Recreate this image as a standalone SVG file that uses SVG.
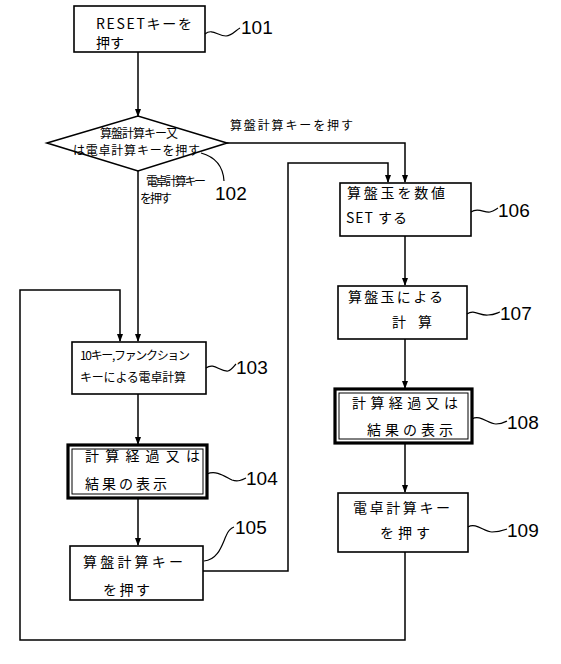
<svg xmlns="http://www.w3.org/2000/svg" width="561" height="664" viewBox="0 0 561 664">
<style>
.box{fill:#fff;stroke:#000;stroke-width:1.6}
.thick{fill:none;stroke:#000;stroke-width:3.2}
.thin{fill:none;stroke:#000;stroke-width:1}
.ln{fill:none;stroke:#000;stroke-width:1.5}
.ld{fill:none;stroke:#000;stroke-width:1.2}
.t{font-family:"Noto Sans CJK JP","Noto Sans CJK SC",sans-serif;font-size:14px;fill:#000}
.s{font-family:"Noto Sans CJK JP","Noto Sans CJK SC",sans-serif;font-size:12px;fill:#000}
.n{font-family:"Liberation Sans","DejaVu Sans",sans-serif;font-size:19px;fill:#000}
</style>
<defs>
<marker id="ar" markerWidth="8" markerHeight="8" refX="7" refY="4" orient="auto" markerUnits="userSpaceOnUse">
<path d="M0,1 L8,4 L0,7 Z" fill="#000"/>
</marker>
</defs>
<rect width="561" height="664" fill="#fff"/>
<g id="connectors">
<path class="ln" d="M138,52 V116" marker-end="url(#ar)"/>
<path class="ln" d="M227,143 H405 V182" marker-end="url(#ar)"/>
<path class="ln" d="M138,171 V341" marker-end="url(#ar)"/>
<path class="ln" d="M405,236 V285" marker-end="url(#ar)"/>
<path class="ln" d="M405,339 V388" marker-end="url(#ar)"/>
<path class="ln" d="M405,443 V492" marker-end="url(#ar)"/>
<path class="ln" d="M405,552 V640 H20 V290 H120 V341" marker-end="url(#ar)"/>
<path class="ln" d="M138,394 V444" marker-end="url(#ar)"/>
<path class="ln" d="M138,498 V545" marker-end="url(#ar)"/>
<path class="ln" d="M203,571 H288 V163 H388 V182" marker-end="url(#ar)"/>
<text class="s" x="230" y="130" textLength="123" lengthAdjust="spacing">算盤計算キーを押す</text>
<text class="s" x="146" y="186" font-size="11" textLength="60" lengthAdjust="spacing">電卓計算キー</text>
<text class="s" x="140" y="203" font-size="11" textLength="32" lengthAdjust="spacing">を押す</text>
</g>
<g id="n101">
<rect class="box" x="74" y="6" width="131" height="46"/>
<text class="t" x="96" y="29" textLength="96" lengthAdjust="spacing">RESETキーを</text>
<text class="t" x="96" y="48">押す</text>
<path class="ld" d="M205,34 C212,28 218,36 226,36 C232,36 236,30 240,28"/>
<text class="n" x="241" y="34">101</text>
</g>
<g id="n102">
<polygon class="box" points="47,143 138,116 227,143 138,171"/>
<text class="s" x="100" y="138" textLength="78" lengthAdjust="spacing">算盤計算キー又</text>
<text class="s" x="73" y="155" textLength="127" lengthAdjust="spacing">は電卓計算キーを押す</text>
<path class="ld" d="M201,153 C212,156 223,164 224,181"/>
<text class="n" x="215" y="200">102</text>
</g>
<g id="n103">
<rect class="box" x="72" y="342" width="134" height="52"/>
<text class="s" x="80" y="360" font-size="13" textLength="110" lengthAdjust="spacing">10キー,ファンクション</text>
<text class="s" x="80" y="382" font-size="13" textLength="106" lengthAdjust="spacing">キーによる電卓計算</text>
<path class="ld" d="M206,368 C214,362 220,372 228,371 C232,370 234,366 236,364"/>
<text class="n" x="236" y="374">103</text>
</g>
<g id="n104">
<rect class="thick" x="68" y="445" width="139" height="53"/>
<rect class="thin" x="72" y="449" width="131" height="45"/>
<text class="t" x="85" y="461" textLength="115" lengthAdjust="spacing">計算経過又は</text>
<text class="t" x="85" y="489" textLength="82" lengthAdjust="spacing">結果の表示</text>
<path class="ld" d="M207,474 C216,470 224,476 232,480 C238,482 242,480 246,478"/>
<text class="n" x="246" y="485">104</text>
</g>
<g id="n105">
<rect class="box" x="70" y="546" width="133" height="54"/>
<text class="t" x="83" y="567" textLength="100" lengthAdjust="spacing">算盤計算キー</text>
<text class="t" x="103" y="595" textLength="47" lengthAdjust="spacing">を押す</text>
<path class="ld" d="M204,561 C218,560 222,545 226,536 C228,531 231,528 234,527"/>
<text class="n" x="235" y="534">105</text>
</g>
<g id="n106">
<rect class="box" x="340" y="183" width="131" height="53"/>
<text class="t" x="347" y="198" textLength="98" lengthAdjust="spacing">算盤玉を数値</text>
<text class="t" x="346" y="223" textLength="61" lengthAdjust="spacing">SET する</text>
<path class="ld" d="M471,212 C478,207 484,213 490,212 C494,211 496,209 498,208"/>
<text class="n" x="498" y="217">106</text>
</g>
<g id="n107">
<rect class="box" x="338" y="286" width="129" height="53"/>
<text class="t" x="348" y="302" textLength="95" lengthAdjust="spacing">算盤玉による</text>
<text class="t" x="392" y="327" textLength="40" lengthAdjust="spacing">計 算</text>
<path class="ld" d="M467,314 C474,309 480,316 488,315 C494,315 497,313 500,312"/>
<text class="n" x="500" y="320">107</text>
</g>
<g id="n108">
<rect class="thick" x="335" y="389" width="137" height="54"/>
<rect class="thin" x="339" y="393" width="129" height="46"/>
<text class="t" x="352" y="408" textLength="106" lengthAdjust="spacing">計算経過又は</text>
<text class="t" x="367" y="435" textLength="86" lengthAdjust="spacing">結果の表示</text>
<path class="ld" d="M472,419 C480,414 488,424 496,424 C502,424 505,422 507,421"/>
<text class="n" x="507" y="429">108</text>
</g>
<g id="n109">
<rect class="box" x="338" y="493" width="130" height="59"/>
<text class="t" x="353" y="513" textLength="97" lengthAdjust="spacing">電卓計算キー</text>
<text class="t" x="380" y="538" textLength="50" lengthAdjust="spacing">を押す</text>
<path class="ld" d="M468,527 C476,522 484,532 492,532 C500,532 504,530 507,529"/>
<text class="n" x="507" y="537">109</text>
</g>
</svg>
